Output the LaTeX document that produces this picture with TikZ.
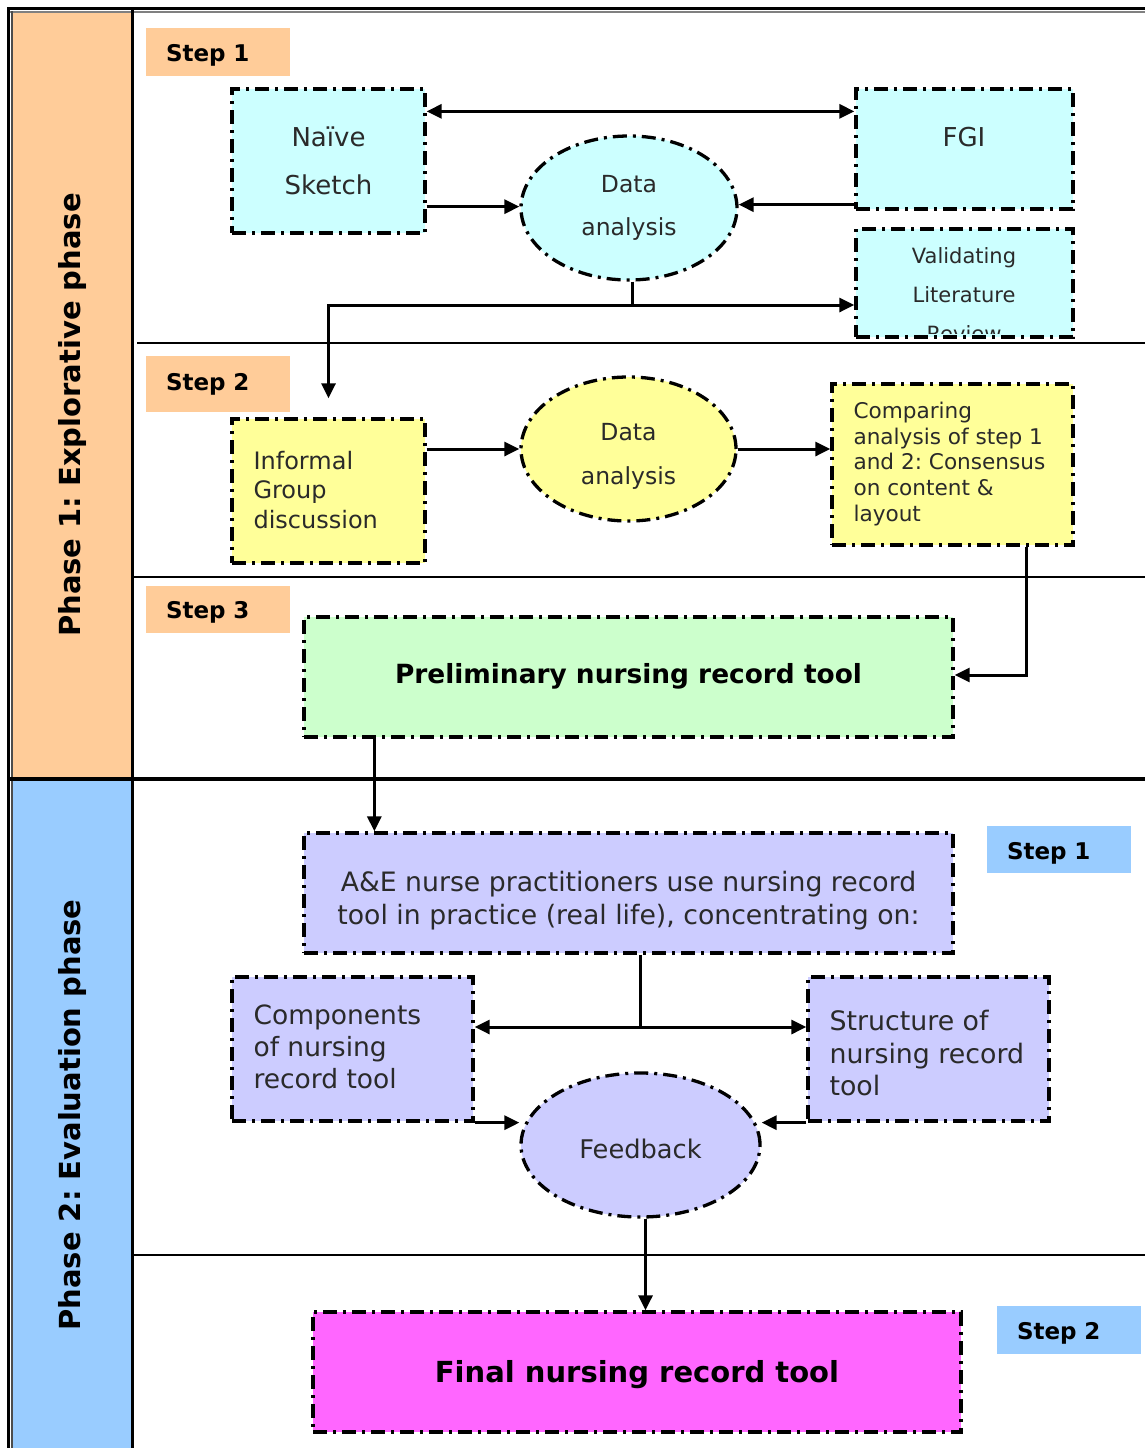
\documentclass[tikz,border=0pt]{standalone}
\usepackage{fontspec}
\setmainfont{DejaVu Sans}
\usetikzlibrary{arrows.meta,shapes.geometric,calc}
\frenchspacing

\definecolor{phaseone}{HTML}{FFCC99}
\definecolor{phasetwo}{HTML}{99CCFF}
\definecolor{cyanfill}{HTML}{CCFFFF}
\definecolor{yellowfill}{HTML}{FFFF99}
\definecolor{greenfill}{HTML}{CCFFCC}
\definecolor{lavfill}{HTML}{CCCCFF}
\definecolor{pinkfill}{HTML}{FF66FF}
\definecolor{bodytext}{HTML}{2A2A2A}

\begin{document}
\begin{tikzpicture}[x=1pt,y=-1pt,
  dashdot/.style={draw=black,line width=3.3pt,dash pattern=on 14pt off 6pt on 3pt off 6pt},
  rbox/.style={dashdot,rectangle,inner sep=0pt},
  oval/.style={dashdot,ellipse,inner sep=0pt},
  arr/.style={line width=3pt,-{Triangle[length=15pt,width=14pt]}},
  twoway/.style={line width=3pt,{Triangle[length=15pt,width=14pt]}-{Triangle[length=15pt,width=14pt]}},
  link/.style={line width=3pt},
  steptag/.style={fill=#1,minimum width=144pt,text width=104pt,inner xsep=20pt,inner ysep=0pt,
    text depth=0pt,align=left,font=\bfseries\fontsize{23}{28}\selectfont},
  phaselabel/.style={rotate=90,font=\bfseries\fontsize{29}{34}\selectfont},
  body/.style={text=bodytext,font=\fontsize{#1}{#1}\selectfont},
]
% canvas
\fill[white] (0,0) rectangle (1145,1448);
\useasboundingbox (0,0) rectangle (1145,1448);

% phase column
\fill[phaseone] (12,12) rectangle (133,778);
\fill[phasetwo] (12,778) rectangle (133,1448);

% frame and separators
\draw[line width=3pt] (7,8.5) -- (1145,8.5);
\draw[line width=2pt,gray] (10,11.5) -- (1145,11.5);
\draw[line width=3pt] (8.5,7) -- (8.5,1448);
\draw[line width=2pt,black!70] (12,11) -- (12,1448);
\draw[line width=3pt] (132,10) -- (132,1448);
\draw[line width=2pt] (137,343) -- (1145,343);
\draw[line width=1.5pt] (133,577) -- (1145,577);
\draw[line width=3.5pt] (10,779) -- (1145,779);
\draw[line width=1.5pt] (133,1255) -- (1145,1255);

% phase titles
\node[phaselabel] (phaseA) at (72,415) {Phase 1: Explorative phase};
\node[phaselabel] (phaseB) at (72,1115) {Phase 2: Evaluation phase};

% step tags
\node[steptag=phaseone,minimum height=48pt,text height=18.8pt] (stepA1) at (218,52) {Step 1};
\node[steptag=phaseone,minimum height=56pt,text height=12.8pt] (stepA2) at (218,384) {Step 2};
\node[steptag=phaseone,minimum height=47pt,text height=17.8pt] (stepA3) at (218,609.5) {Step 3};
\node[steptag=phasetwo,minimum height=47pt,text height=19.8pt] (stepB1) at (1059,849.5) {Step 1};
\node[steptag=phasetwo,minimum height=48pt,text height=18.8pt] (stepB2) at (1069,1330) {Step 2};

% phase 1, step 1
\node[rbox,fill=cyanfill,minimum width=193pt,minimum height=144pt,align=center,
      text=bodytext,font=\fontsize{26}{48}\selectfont] (naive) at (328.5,161) {Naïve\\Sketch};
\node[rbox,fill=cyanfill,minimum width=217pt,minimum height=120pt] (fgi) at (964.5,149) {};
\node[body=26] (fgiT) at (964,137) {FGI};
\node[oval,fill=cyanfill,minimum width=216pt,minimum height=144pt,align=center,
      text=bodytext,font=\fontsize{23.5}{43}\selectfont] (da1) at (629,208) {Data\\analysis};
\node[rbox,fill=cyanfill,minimum width=217pt,minimum height=108pt] (val) at (964.5,283) {};
\begin{scope}
  \clip (857.5,230.5) rectangle (1071.5,333);
  \node[align=center,text=bodytext,font=\fontsize{21}{39}\selectfont] (valT) at (964,295) {Validating\\Literature\\Review};
\end{scope}

% phase 1, step 2
\node[rbox,fill=yellowfill,minimum width=193pt,minimum height=144pt] (igd) at (328.5,491) {};
\node[anchor=west,align=left,text=bodytext,font=\fontsize{24}{29.5}\selectfont] (igdT) at (250,490)
  {Informal\\Group\\discussion};
\node[oval,fill=yellowfill,minimum width=215pt,minimum height=144pt] (da2) at (628.5,449) {};
\node[align=center,text=bodytext,font=\fontsize{23.5}{44}\selectfont] (da2T) at (628.5,456) {Data\\analysis};
\node[rbox,fill=yellowfill,minimum width=241pt,minimum height=161pt] (cmp) at (952.5,464.5) {};
\node[anchor=west,align=left,text=bodytext,font=\fontsize{21.6}{25.8}\selectfont] (cmpT) at (850,464)
  {Comparing\\analysis of step 1\\and 2: Consensus\\on content \&\\layout};

% phase 1, step 3
\node[rbox,fill=greenfill,minimum width=649pt,minimum height=120pt,text height=13.3pt,text depth=0pt,
      font=\bfseries\fontsize{26.4}{30}\selectfont] (prelim) at (628.5,677) {Preliminary nursing record tool};

% phase 2, step 1
\node[rbox,fill=lavfill,minimum width=649pt,minimum height=120pt] (ae) at (628.5,893) {};
\node[align=center,text=bodytext,font=\fontsize{26.7}{33}\selectfont] (aeT) at (628.5,901)
  {A\&E nurse practitioners use nursing record\\tool in practice (real life), concentrating on:};
\node[rbox,fill=lavfill,minimum width=241pt,minimum height=144pt] (comp) at (352.5,1049) {};
\node[anchor=west,align=left,text=bodytext,font=\fontsize{26.5}{32}\selectfont] (compT) at (250,1047)
  {Components\\of nursing\\record tool};
\node[rbox,fill=lavfill,minimum width=241pt,minimum height=144pt] (struct) at (928.5,1049) {};
\node[anchor=west,align=left,text=bodytext,font=\fontsize{26.8}{32.5}\selectfont] (structT) at (826,1053)
  {Structure of\\nursing record\\tool};
\node[oval,fill=lavfill,minimum width=239pt,minimum height=144pt,text height=26.8pt,text depth=0pt,
      text=bodytext,font=\fontsize{25.7}{30}\selectfont] (fb) at (640.5,1145) {Feedback};

% phase 2, step 2
\node[rbox,fill=pinkfill,minimum width=648pt,minimum height=120pt,text height=21.2pt,text depth=0pt,
      font=\bfseries\fontsize{29}{34}\selectfont] (final) at (637,1372) {Final nursing record tool};

% connectors, step 1
\draw[twoway] ([yshift=-24pt]naive.north east) -- ([yshift=-24pt]fgi.north west);
\draw[arr] ([yshift=28pt]naive.south east) -- ([yshift=28pt]naive.south east -| da1.west);
\draw[arr] ([yshift=6pt]fgi.south west) -- ([yshift=6pt]fgi.south west -| da1.east);
\coordinate (fork) at (632,305);
\draw[link] (da1.south -| fork) -- (fork);
\draw[arr] (fork) -- (fork -| val.west);
\draw[arr,shorten >=19pt] (fork) -| (igd.north);

% connectors, step 2
\draw[arr] (igd.east |- da2.west) -- (da2.west);
\draw[arr] (da2.east) -- (da2.east -| cmp.west);
\draw[arr] ([xshift=-48pt]cmp.south east) |- ([yshift=2pt]prelim.east);

% connectors, phase 2
\draw[arr] ([xshift=72pt]prelim.south west) -- ([xshift=72pt]ae.north west);
\coordinate (split) at (640,1027);
\draw[link] (ae.south -| split) -- (split);
\draw[arr] (split) -- (split -| comp.east);
\draw[arr] (split) -- (split -| struct.west);
\draw[arr] (comp.south east) -- (comp.south east -| fb.west);
\draw[arr] (struct.south west) -- (struct.south west -| fb.east);
\draw[arr] ([xshift=5pt]fb.south) -- ([xshift=5pt]fb.south |- final.north);
\end{tikzpicture}
\end{document}
